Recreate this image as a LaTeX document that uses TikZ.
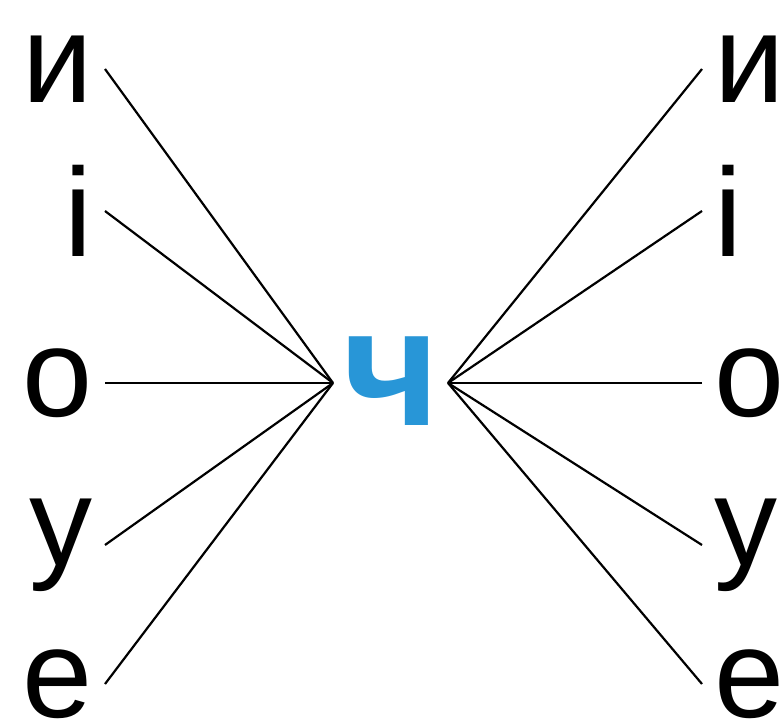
\documentclass[tikz,border=0pt]{standalone}
\usepackage{fontspec}
\setmainfont{Liberation Sans}
\definecolor{chblue}{RGB}{40,150,215}
\tikzset{
  letter/.style={inner sep=6pt, font=\fontsize{63}{63}\selectfont},
  centre/.style={inner sep=0pt, text=chblue, font=\fontsize{84}{84}\selectfont\bfseries},
  link/.style={line width=1.1pt}
}
\begin{document}
\begin{tikzpicture}[x=0.5pt,y=-0.5pt]
  \useasboundingbox (0,0) rectangle (782,721);
  \node[centre] (ch) at (391,381) {ч};
  \coordinate (cl) at (333,383);
  \coordinate (cr) at (448,383);
  % letters on both sides, joined to the centre
  \foreach \name/\ch/\y in {a/и/69,b/і/211,c/о/383,d/у/545,e/е/684} {
    \node[letter,anchor=east] (l\name) at (105,\y) {\ch};
    \node[letter,anchor=west] (r\name) at (702,\y) {\ch};
    \draw[link] (l\name.east) -- (cl);
    \draw[link] (r\name.west) -- (cr);
  }
\end{tikzpicture}
\end{document}
